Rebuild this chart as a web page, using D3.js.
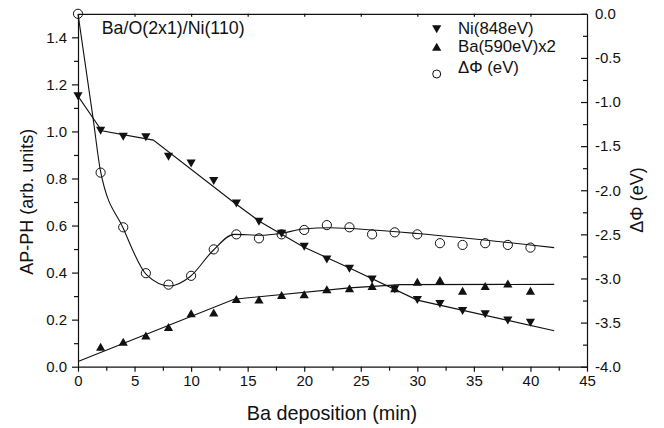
<!DOCTYPE html>
<html>
<head>
<meta charset="utf-8">
<script src="https://cdn.jsdelivr.net/npm/d3@7"></script>
<style>
  body { margin: 0; background: #fff; }
  svg text { font-family: "Liberation Sans", Arial, sans-serif; fill: #111; }
  .axis path, .axis line { stroke: #111; stroke-width: 1.2; }
</style>
</head>
<body>
<div id="chart"></div>
<script>
// measured points (every 2 min)
var minutes = [0, 2, 4, 6, 8, 10, 12, 14, 16, 18, 20, 22, 24, 26, 28, 30, 32, 34, 36, 38, 40];
var niPH   = [1.15, 1.003, 0.977, 0.975, 0.892, 0.864, 0.789, 0.694, 0.616, 0.565, 0.510, 0.456, 0.416, 0.371, 0.329, 0.283, 0.266, 0.237, 0.223, 0.196, 0.187];
var baMinutes = [2, 4, 6, 8, 10, 12, 14, 16, 18, 20, 22, 24, 26, 28, 30, 32, 34, 36, 38, 40];
var baPH   = [0.085, 0.106, 0.133, 0.169, 0.227, 0.230, 0.288, 0.286, 0.305, 0.308, 0.329, 0.333, 0.343, 0.333, 0.361, 0.368, 0.323, 0.343, 0.354, 0.323];
var dPhi   = [0.0, -1.80, -2.42, -2.94, -3.07, -2.97, -2.67, -2.50, -2.545, -2.50, -2.45, -2.395, -2.42, -2.50, -2.477, -2.50, -2.60, -2.62, -2.60, -2.62, -2.65];

// fitted guide lines, nodes
var niFitX = [0, 2.1, 6.66, 13.73, 16.1, 19.9, 24.05, 30, 42.1];
var niFitY = [1.15, 1.003, 0.963, 0.70, 0.616, 0.51, 0.418, 0.283, 0.153];
var baFitX = [0, 13.8, 24, 28.5, 42.1];
var baFitY = [0.022, 0.287, 0.335, 0.349, 0.35];
var phiFitX = [0, 1.35, 2, 4, 6.07, 8.1, 9.9, 11.96, 13.8, 16.1, 17.9, 19.9, 22.3, 26, 30, 42.1];
var phiFitY = [0, -1.2, -1.79, -2.43, -2.96, -3.086, -2.98, -2.68, -2.50, -2.51, -2.49, -2.44, -2.425, -2.45, -2.49, -2.65];

var legendLabels = ["Ni(848eV)", "Ba(590eV)x2", "\u0394\u03A6 (eV)"];

var W = 664, H = 428;
var pLeft = 78, pRight = 587, pTop = 13.8, pBottom = 366.7;
var tickFont = 15;

var svg = d3.select("#chart").append("svg").attr("width", W).attr("height", H);

var x = d3.scaleLinear().domain([0, 45]).range([pLeft, pRight]);
var y = d3.scaleLinear().domain([0, 1.5]).range([pBottom, pTop]);
var yR = d3.scaleLinear().domain([-4, 0]).range([pBottom, pTop]);

// plain hyphen for negatives, like the original
var fmt1 = d3.formatLocale({decimal: ".", thousands: ",", grouping: [3], currency: ["", ""], minus: "-"}).format(".1f");

// axes
var major = d3.range(0, 46, 5);
var minorX = d3.range(2.5, 45, 5);

svg.append("g").attr("class", "axis").attr("transform", "translate(0," + pBottom + ")")
  .call(d3.axisBottom(x).tickValues(major).tickSize(5).tickSizeOuter(0).tickPadding(4).tickFormat(d3.format("d")))
  .call(function(g){ g.selectAll("text").attr("font-size", tickFont); });
svg.append("g").attr("class", "axis minor").attr("transform", "translate(0," + pBottom + ")")
  .call(d3.axisBottom(x).tickValues(minorX).tickSize(4).tickFormat(""))
  .call(function(g){ g.select(".domain").remove(); });

svg.append("g").attr("class", "axis").attr("transform", "translate(0," + pTop + ")")
  .call(d3.axisTop(x).tickValues(major.slice(1, -1)).tickSize(-3).tickSizeOuter(0).tickFormat(""));

svg.append("g").attr("class", "axis").attr("transform", "translate(" + pLeft + ",0)")
  .call(d3.axisLeft(y).tickValues(d3.range(0, 1.41, 0.2)).tickSize(6).tickSizeOuter(0).tickPadding(5).tickFormat(fmt1))
  .call(function(g){ g.selectAll("text").attr("font-size", tickFont); });
svg.append("g").attr("class", "axis minor").attr("transform", "translate(" + pLeft + ",0)")
  .call(d3.axisLeft(y).tickValues(d3.range(0.1, 1.5, 0.2)).tickSize(4).tickFormat(""))
  .call(function(g){ g.select(".domain").remove(); });

svg.append("g").attr("class", "axis").attr("transform", "translate(" + pRight + ",0)")
  .call(d3.axisRight(yR).tickValues(d3.range(-4, 0.01, 0.5)).tickSize(-6).tickSizeOuter(0).tickPadding(8).tickFormat(fmt1))
  .call(function(g){ g.selectAll("text").attr("font-size", tickFont); });
svg.append("g").attr("class", "axis minor").attr("transform", "translate(" + pRight + ",0)")
  .call(d3.axisRight(yR).tickValues(d3.range(-3.75, 0, 0.5)).tickSize(-4).tickFormat(""))
  .call(function(g){ g.select(".domain").remove(); });

// axis titles
svg.append("text").attr("x", 332).attr("y", 420).attr("text-anchor", "middle")
  .attr("font-size", 19.8).text("Ba deposition (min)");
svg.append("text").attr("transform", "translate(33,201.7) rotate(-90)").attr("text-anchor", "middle")
  .attr("font-size", 18).text("AP-PH (arb. units)");
svg.append("text").attr("transform", "translate(643,200) rotate(-90)").attr("text-anchor", "middle")
  .attr("font-size", 18).text("\u0394\u03A6 (eV)");

svg.append("text").attr("x", 101.7).attr("y", 34.3).attr("font-size", 17.8).text("Ba/O(2x1)/Ni(110)");

// fit lines
var fitLine = d3.line().x(function(d){ return x(d[0]); }).y(function(d){ return y(d[1]); });
var fitLineR = d3.line().x(function(d){ return x(d[0]); }).y(function(d){ return yR(d[1]); }).curve(d3.curveMonotoneX);

svg.append("path").datum(d3.zip(niFitX, niFitY)).attr("d", fitLine)
  .attr("fill", "none").attr("stroke", "#111").attr("stroke-width", 1.1);
svg.append("path").datum(d3.zip(baFitX, baFitY)).attr("d", fitLine)
  .attr("fill", "none").attr("stroke", "#111").attr("stroke-width", 1.1);
svg.append("path").datum(d3.zip(phiFitX, phiFitY)).attr("d", fitLineR)
  .attr("fill", "none").attr("stroke", "#111").attr("stroke-width", 1.1);

// markers
function tri(cx, cy, down) {
  var w = 4.6, h = 4;
  if (down) return "M" + (cx - w) + "," + (cy - h) + "L" + (cx + w) + "," + (cy - h) + "L" + cx + "," + (cy + h) + "Z";
  return "M" + (cx - w) + "," + (cy + h) + "L" + (cx + w) + "," + (cy + h) + "L" + cx + "," + (cy - h) + "Z";
}

svg.append("g").selectAll("path").data(d3.zip(minutes, niPH)).enter().append("path")
  .attr("d", function(d){ return tri(x(d[0]), y(d[1]), true); }).attr("fill", "#111");
svg.append("g").selectAll("path").data(d3.zip(baMinutes, baPH)).enter().append("path")
  .attr("d", function(d){ return tri(x(d[0]), y(d[1]), false); }).attr("fill", "#111");
svg.append("g").selectAll("circle").data(d3.zip(minutes, dPhi)).enter().append("circle")
  .attr("cx", function(d){ return x(d[0]); }).attr("cy", function(d){ return yR(d[1]); })
  .attr("r", 4.6).attr("fill", "none").attr("stroke", "#111").attr("stroke-width", 1);

// legend
var lg = svg.append("g");
var lgY = [29.3, 46.7, 74];
var lgBase = [33.5, 51.7, 73];
lg.append("path").attr("d", tri(436.7, lgY[0], true)).attr("fill", "#111");
lg.append("path").attr("d", tri(436.7, lgY[1], false)).attr("fill", "#111");
lg.append("circle").attr("cx", 436.7).attr("cy", lgY[2]).attr("r", 4)
  .attr("fill", "none").attr("stroke", "#111").attr("stroke-width", 1);
lg.selectAll("text").data(legendLabels).enter().append("text")
  .attr("x", 458).attr("y", function(d, i){ return lgBase[i]; })
  .attr("font-size", 16.8).text(function(d){ return d; });
</script>
</body>
</html>
